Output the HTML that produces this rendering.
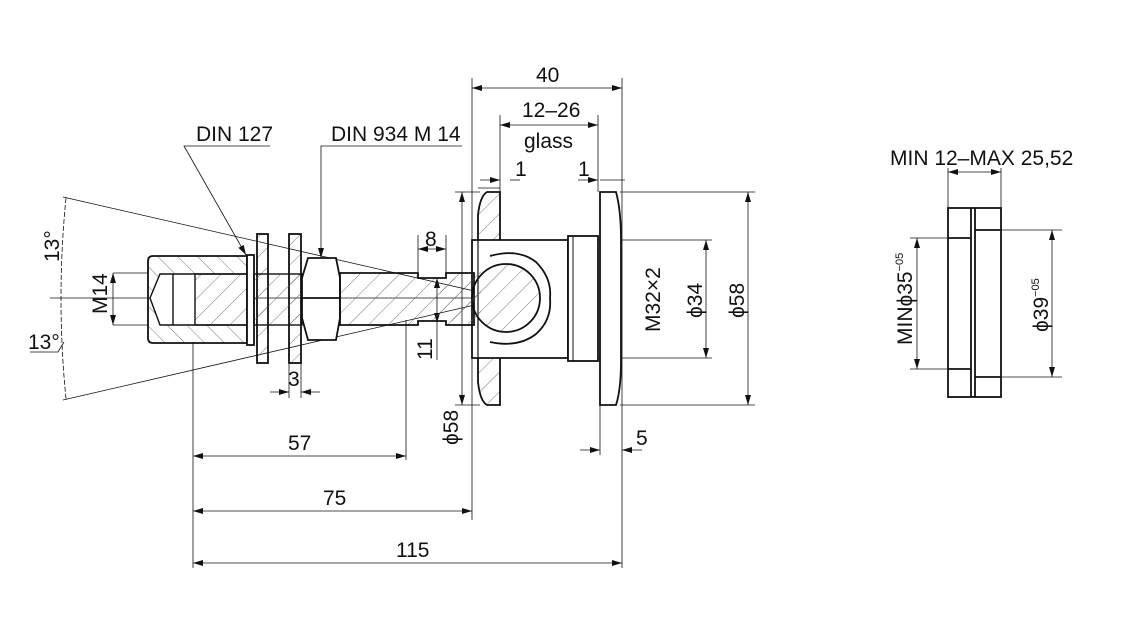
<!DOCTYPE html>
<html><head><meta charset="utf-8"><style>
html,body{margin:0;padding:0;background:#fff;}
svg{display:block;}
text{font-family:"Liberation Sans",sans-serif;font-size:21px;fill:#111;}
</style></head><body>
<svg width="1130" height="631" viewBox="0 0 1130 631" xmlns="http://www.w3.org/2000/svg">
<defs>
<pattern id="h" patternUnits="userSpaceOnUse" width="14" height="14" patternTransform="rotate(45)">
<line x1="0" y1="0" x2="0" y2="14" stroke="#555" stroke-width="0.8"/></pattern>
<pattern id="h2" patternUnits="userSpaceOnUse" width="14" height="14" patternTransform="rotate(-45)">
<line x1="0" y1="0" x2="0" y2="14" stroke="#555" stroke-width="0.8"/></pattern>
<marker id="a" markerWidth="10" markerHeight="6" refX="10" refY="3" orient="auto-start-reverse" markerUnits="userSpaceOnUse">
<path d="M0,0 L10,3 L0,6 z" fill="#111"/></marker>
</defs>
<g stroke="#111" fill="none" stroke-width="0.8">
<line x1="63" y1="197" x2="505" y2="298"/>
<line x1="63" y1="400" x2="505" y2="298"/>
<line x1="50" y1="298" x2="560" y2="298"/>
<path d="M66,198 Q56,298 66,399" stroke-dasharray="5,2"/>
<line x1="113" y1="273" x2="148" y2="273"/><line x1="113" y1="325" x2="148" y2="325"/>
<line x1="113" y1="273" x2="113" y2="325" marker-start="url(#a)" marker-end="url(#a)"/>
<line x1="193" y1="342" x2="193" y2="568"/>
<line x1="406" y1="320" x2="406" y2="460"/>
<line x1="472" y1="78" x2="472" y2="520"/>
<line x1="622" y1="78" x2="622" y2="568"/>
<line x1="500" y1="115" x2="500" y2="192"/>
<line x1="598" y1="115" x2="598" y2="192"/>
<line x1="600" y1="405" x2="600" y2="455"/>
<line x1="478" y1="188" x2="500" y2="188"/>
<line x1="472" y1="88" x2="622" y2="88" marker-start="url(#a)" marker-end="url(#a)"/>
<line x1="500" y1="125" x2="598" y2="125" marker-start="url(#a)" marker-end="url(#a)"/>
<line x1="480" y1="180" x2="500" y2="180" marker-end="url(#a)"/><line x1="510" y1="180" x2="520" y2="180"/>
<line x1="578" y1="180" x2="598" y2="180" marker-end="url(#a)"/><line x1="600" y1="180" x2="625" y2="180"/>
<line x1="193" y1="456" x2="406" y2="456" marker-start="url(#a)" marker-end="url(#a)"/>
<line x1="193" y1="511" x2="472" y2="511" marker-start="url(#a)" marker-end="url(#a)"/>
<line x1="193" y1="563" x2="622" y2="563" marker-start="url(#a)" marker-end="url(#a)"/>
<line x1="580" y1="450" x2="600" y2="450" marker-end="url(#a)"/><line x1="622" y1="450" x2="642" y2="450" marker-start="url(#a)"/>
<line x1="620" y1="192" x2="755" y2="192"/><line x1="620" y1="405" x2="755" y2="405"/>
<line x1="748" y1="192" x2="748" y2="405" marker-start="url(#a)" marker-end="url(#a)"/>
<line x1="568" y1="240" x2="712" y2="240"/><line x1="568" y1="358" x2="712" y2="358"/>
<line x1="706" y1="240" x2="706" y2="358" marker-start="url(#a)" marker-end="url(#a)"/>
<line x1="455" y1="192" x2="480" y2="192"/><line x1="455" y1="405" x2="480" y2="405"/>
<line x1="462" y1="192" x2="462" y2="405" marker-start="url(#a)" marker-end="url(#a)"/>
<line x1="418" y1="235" x2="418" y2="272"/><line x1="446" y1="235" x2="446" y2="275"/>
<line x1="418" y1="249" x2="446" y2="249" marker-start="url(#a)" marker-end="url(#a)"/>
<line x1="437" y1="278" x2="437" y2="323" marker-start="url(#a)" marker-end="url(#a)"/>
<line x1="437" y1="323" x2="437" y2="360"/>
<line x1="289" y1="363" x2="289" y2="398"/><line x1="301" y1="363" x2="301" y2="398"/>
<line x1="270" y1="392" x2="289" y2="392" marker-end="url(#a)"/><line x1="301" y1="392" x2="320" y2="392" marker-start="url(#a)"/>
<polyline points="270,146 184,146 246,255" marker-end="url(#a)"/>
<polyline points="462,146 321,146 321,258" marker-end="url(#a)"/>
<polyline points="30,352 58,352 64,342"/>
</g>
<g stroke="#111" stroke-width="1.8">
<path d="M153,256 L247,256 L247,343 L153,343 Q148,343 148,338 L148,261 Q148,256 153,256z" fill="url(#h2)"/>
<path d="M160,274 L247,274 L247,325 L160,325 L150,298z" fill="#fff" stroke-width="1.4"/>
<rect x="195" y="274" width="52" height="51" fill="url(#h)" stroke-width="1.4"/>
<line x1="173" y1="274" x2="173" y2="325" stroke-width="1.4"/>
<rect x="247" y="255" width="7" height="90" fill="#fff"/>
<rect x="257" y="234" width="11" height="129" fill="url(#h)"/>
<rect x="289" y="234" width="12" height="129" fill="url(#h)"/>
<rect x="254" y="274" width="48" height="51" fill="url(#h)" stroke-width="1.4"/>
<path d="M308,258 L336,258 L340,278 L340,318 L336,340 L308,340 L302,318 L302,278z" fill="#fff"/>
<line x1="302" y1="298" x2="340" y2="298"/>
<!-- left disc -->
<path d="M487,192 Q480,196 478,215 L478,382 Q480,401 487,405 L500,405 L500,192z" fill="url(#h)"/>
<!-- housing -->
<path d="M472,240 L568,240 L568,358 L472,358z" fill="#fff"/>
<line x1="478" y1="240" x2="478" y2="358" stroke-width="1.2"/>
<path d="M490,256 Q518,248 536,262 Q552,278 550,298 Q552,320 536,334 Q518,348 490,342" fill="#fff"/>
<path d="M440,278 L478,278 L478,321 L440,321z" fill="url(#h)" stroke="none"/>
<circle cx="506" cy="298" r="34" fill="url(#h)"/>
<path d="M340,273 L418,273 L418,278 L446,278 L446,273 L474,273 L474,325 L446,325 L446,321 L418,321 L418,325 L340,325z" fill="url(#h)"/>
<rect x="473" y="272" width="8" height="54" fill="url(#h)" stroke="none"/>
<rect x="568" y="236" width="30" height="125" fill="#fff"/>
<line x1="573" y1="236" x2="573" y2="361" stroke-width="1"/>
<path d="M600,192 L616,192 Q621,210 621,240 L621,360 Q621,390 616,405 L600,405z" fill="#fff"/>
<rect x="948" y="208" width="53" height="189" fill="#fff"/>
<line x1="971" y1="208" x2="971" y2="397"/><line x1="975" y1="208" x2="975" y2="397"/>
<line x1="948" y1="238" x2="971" y2="238"/><line x1="948" y1="369" x2="971" y2="369"/>
<line x1="975" y1="230" x2="1001" y2="230"/><line x1="975" y1="377" x2="1001" y2="377"/>
</g>
<g stroke="#111" fill="none" stroke-width="0.8">
<line x1="948" y1="168" x2="948" y2="208"/><line x1="1001" y1="168" x2="1001" y2="208"/>
<line x1="948" y1="172" x2="1001" y2="172" marker-start="url(#a)" marker-end="url(#a)"/>
<line x1="910" y1="238" x2="948" y2="238"/><line x1="910" y1="369" x2="948" y2="369"/>
<line x1="917" y1="238" x2="917" y2="369" marker-start="url(#a)" marker-end="url(#a)"/>
<line x1="1001" y1="230" x2="1062" y2="230"/><line x1="1001" y1="377" x2="1062" y2="377"/>
<line x1="1052" y1="230" x2="1052" y2="377" marker-start="url(#a)" marker-end="url(#a)"/>
</g>
<g>
<text x="536" y="82">40</text>
<text x="522" y="117">12–26</text>
<text x="524" y="148">glass</text>
<text x="515" y="176">1</text>
<text x="578" y="176">1</text>
<text x="196" y="141">DIN 127</text>
<text x="331" y="141">DIN 934 M 14</text>
<text x="425" y="246">8</text>
<text x="288" y="386">3</text>
<text x="288" y="450">57</text>
<text x="323" y="505">75</text>
<text x="396" y="557">115</text>
<text x="636" y="445">5</text>
<text x="28" y="349">13°</text>
<text x="890" y="165">MIN 12–MAX 25,52</text>
<text transform="translate(59,262) rotate(-90)">13°</text>
<text transform="translate(107,314) rotate(-90)" font-size="18">M14</text>
<text transform="translate(432,360) rotate(-90)">11</text>
<text transform="translate(458,445) rotate(-90)">ϕ58</text>
<text transform="translate(660,332) rotate(-90)">M32×2</text>
<text transform="translate(702,318) rotate(-90)">ϕ34</text>
<text transform="translate(744,318) rotate(-90)">ϕ58</text>
<text transform="translate(912,345) rotate(-90)">MINϕ35<tspan font-size="11" dy="-9">−05</tspan></text>
<text transform="translate(1048,332) rotate(-90)">ϕ39<tspan font-size="11" dy="-9">−05</tspan></text>
</g>
</svg>
</body></html>
